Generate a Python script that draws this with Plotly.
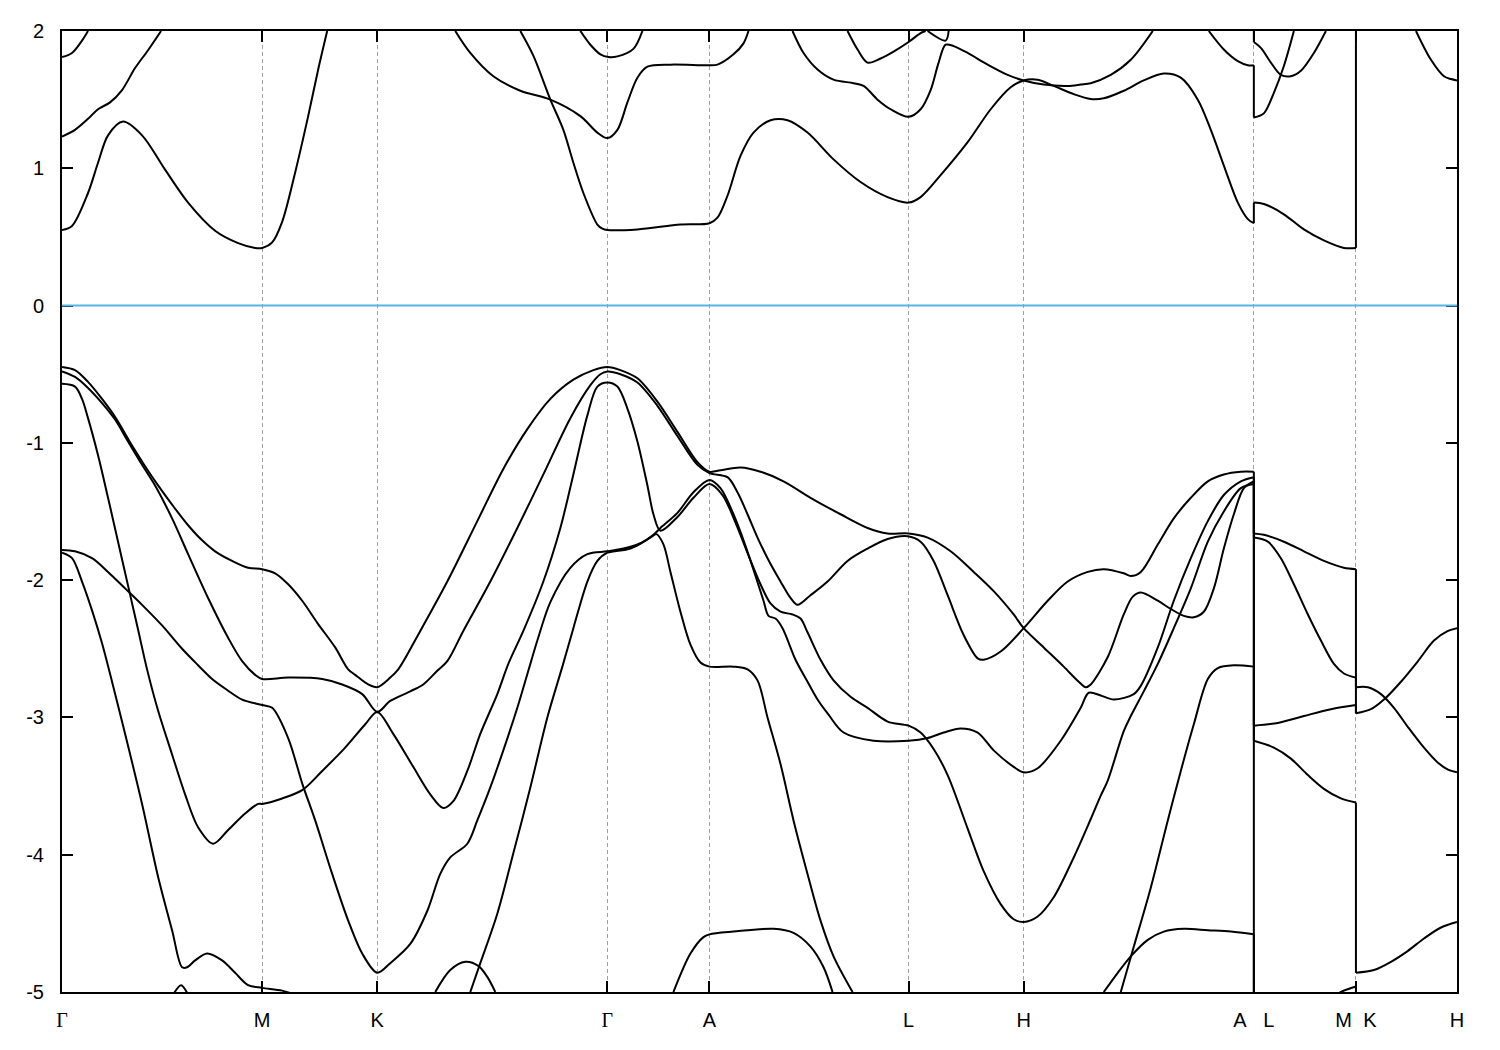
import plotly.graph_objects as go

# ---------------- high-symmetry points (k-path distance) ----------------
sym_k = [0.0, 0.200, 0.315, 0.545, 0.647, 0.846, 0.961, 1.191, 1.293, 1.394]
GAMMA = "<span style=\"font-family:'Liberation Serif', serif\">Γ</span>"
sym_labels = [GAMMA, "M", "K", GAMMA, "A", "L", "H", "A\u00a0\u00a0\u00a0L", "M\u00a0\u00a0K", "H"]
e_ticks = [-5, -4, -3, -2, -1, 0, 1, 2]
e_ticklabels = ["-5", "-4", "-3", "-2", "-1", "0", "1", "2"]
fermi_level = 0.0

# ---------------- conduction bands (k, E in eV) ----------------
cb1_k = [0.000, 0.010, 0.026, 0.036, 0.046, 0.061, 0.080, 0.103, 0.126, 0.153, 0.176, 0.193, 0.200, 0.210, 0.220, 0.233, 0.246, 0.256, 0.265]
cb1_e = [0.55, 0.58, 0.82, 1.04, 1.24, 1.34, 1.24, 0.99, 0.75, 0.545, 0.455, 0.42, 0.42, 0.46, 0.61, 0.97, 1.38, 1.72, 2.0]

cb2_k = [0.000, 0.013, 0.026, 0.036, 0.048, 0.060, 0.073, 0.086, 0.099]
cb2_e = [1.23, 1.28, 1.36, 1.43, 1.48, 1.57, 1.73, 1.86, 2.0]

cb3_k = [0.000, 0.010, 0.020, 0.026]
cb3_e = [1.81, 1.84, 1.93, 2.0]

cb4_k = [0.393, 0.408, 0.431, 0.458, 0.488, 0.518, 0.535, 0.545, 0.555, 0.565, 0.575, 0.585, 0.608, 0.647, 0.655, 0.671, 0.681, 0.686]
cb4_e = [2.0, 1.84, 1.67, 1.565, 1.50, 1.38, 1.26, 1.22, 1.28, 1.48, 1.66, 1.74, 1.755, 1.75, 1.755, 1.83, 1.91, 2.0]

cb5_k = [0.458, 0.471, 0.488, 0.501, 0.511, 0.521, 0.535, 0.540, 0.545, 0.575, 0.618, 0.647, 0.655, 0.665, 0.678, 0.691,
         0.708, 0.725, 0.745, 0.771, 0.798, 0.825, 0.846, 0.858, 0.878, 0.905, 0.928, 0.948, 0.961, 0.975, 0.991, 1.011,
         1.028, 1.041, 1.061, 1.081, 1.101, 1.118, 1.135, 1.148, 1.161, 1.175, 1.185, 1.191,
         1.191, 1.201, 1.221, 1.241, 1.261, 1.281, 1.293, 1.293]
cb5_e = [2.0, 1.82, 1.50, 1.28, 1.04, 0.82, 0.59, 0.56, 0.55, 0.555, 0.59, 0.60, 0.64, 0.80, 1.09, 1.26,
         1.35, 1.35, 1.26, 1.065, 0.90, 0.79, 0.75, 0.79, 0.95, 1.19, 1.43, 1.59, 1.64, 1.645, 1.60, 1.54,
         1.505, 1.51, 1.565, 1.64, 1.69, 1.66, 1.50, 1.28, 1.02, 0.75, 0.63, 0.60,
         0.75, 0.74, 0.665, 0.555, 0.475, 0.42, 0.42, 2.1]

cb6_k = [0.730, 0.741, 0.755, 0.771, 0.791, 0.801, 0.815, 0.828, 0.846, 0.858, 0.868, 0.876, 0.883, 0.891, 0.905, 0.925,
         0.945, 0.961, 0.981, 1.005, 1.018, 1.028, 1.048, 1.068, 1.090]
cb6_e = [2.0, 1.84, 1.72, 1.646, 1.62, 1.60, 1.50, 1.43, 1.375, 1.43, 1.57, 1.77, 1.90, 1.89, 1.84, 1.755,
         1.68, 1.64, 1.61, 1.60, 1.61, 1.62, 1.68, 1.79, 2.0]

cb7_k = [0.785, 0.795, 0.805, 0.818, 0.831, 0.846, 0.858, 0.863]
cb7_e = [2.0, 1.865, 1.77, 1.80, 1.85, 1.92, 1.985, 2.0]

cb8_k = [0.865, 0.883, 0.886]
cb8_e = [2.0, 1.93, 2.0]

cb9_k = [0.518, 0.528, 0.538, 0.546, 0.555, 0.571, 0.580]
cb9_e = [2.0, 1.90, 1.83, 1.81, 1.815, 1.87, 2.0]

cb10_k = [1.146, 1.161, 1.175, 1.185, 1.191, 1.191, 1.201, 1.211, 1.221, 1.231]
cb10_e = [2.0, 1.865, 1.78, 1.75, 1.75, 1.37, 1.40, 1.55, 1.745, 2.0]

cb11_k = [1.191, 1.191, 1.198, 1.208, 1.218, 1.228, 1.238, 1.251, 1.263]
cb11_e = [2.1, 1.92, 1.877, 1.77, 1.68, 1.67, 1.71, 1.84, 2.0]

cb12_k = [1.353, 1.368, 1.381, 1.388, 1.394]
cb12_e = [2.0, 1.79, 1.67, 1.65, 1.64]

# ---------------- valence bands (k, E in eV) ----------------
vb1_k = [0.000, 0.013, 0.026, 0.040, 0.053, 0.070, 0.083, 0.096, 0.110, 0.126, 0.140, 0.153, 0.170, 0.186, 0.200,
         0.213, 0.226, 0.240, 0.256, 0.273, 0.286, 0.293, 0.306, 0.315,
         0.328, 0.336, 0.358, 0.385, 0.415, 0.441, 0.465, 0.488, 0.511, 0.531, 0.545,
         0.558, 0.575, 0.595, 0.615, 0.635, 0.647,
         0.658, 0.678, 0.698, 0.721, 0.748, 0.778, 0.805, 0.825, 0.846, 0.865, 0.888, 0.911, 0.931, 0.951, 0.961,
         0.981, 1.001, 1.016, 1.023, 1.028, 1.045, 1.061, 1.070, 1.078, 1.095, 1.108, 1.121, 1.131, 1.141, 1.151,
         1.161, 1.171, 1.181, 1.191,
         1.191, 1.201, 1.221, 1.241, 1.261, 1.281, 1.293,
         1.293, 1.305, 1.318, 1.331, 1.345, 1.361, 1.375, 1.385, 1.394]
vb1_e = [-0.447, -0.47, -0.556, -0.68, -0.81, -1.02, -1.17, -1.31, -1.45, -1.60, -1.71, -1.79, -1.86, -1.91, -1.92,
         -1.95, -2.03, -2.15, -2.32, -2.49, -2.65, -2.69, -2.76, -2.78,
         -2.71, -2.65, -2.37, -2.01, -1.57, -1.19, -0.90, -0.68, -0.54, -0.47, -0.447,
         -0.47, -0.53, -0.70, -0.92, -1.14, -1.21,
         -1.20, -1.18, -1.21, -1.28, -1.40, -1.52, -1.62, -1.66, -1.66, -1.69, -1.79, -1.94, -2.08, -2.25, -2.35,
         -2.49, -2.63, -2.74, -2.78, -2.76, -2.56, -2.25, -2.12, -2.09, -2.15, -2.21, -2.26, -2.27, -2.23, -2.06,
         -1.77, -1.52, -1.33, -1.28,
         -1.66, -1.67, -1.72, -1.79, -1.86, -1.91, -1.92,
         -2.78, -2.78, -2.83, -2.93, -3.07, -3.22, -3.33, -3.38, -3.40]

vb2_k = [0.000, 0.013, 0.026, 0.040, 0.053, 0.066, 0.080, 0.093, 0.110, 0.126, 0.146, 0.166, 0.180, 0.193, 0.200,
         0.226, 0.260, 0.280, 0.300, 0.315,
         0.328, 0.348, 0.361, 0.375, 0.385, 0.401, 0.428, 0.455, 0.481, 0.508, 0.528, 0.538, 0.545,
         0.558, 0.575, 0.595, 0.615, 0.635, 0.647,
         0.665, 0.675, 0.685, 0.695, 0.705, 0.718, 0.728, 0.735, 0.748, 0.765, 0.785, 0.805, 0.825, 0.845, 0.858,
         0.871, 0.885, 0.901, 0.915, 0.921, 0.938, 0.961, 0.985, 1.005, 1.025, 1.041, 1.061, 1.068, 1.078, 1.095,
         1.111, 1.128, 1.145, 1.161, 1.178, 1.191,
         1.191, 1.205, 1.218, 1.231, 1.245, 1.258, 1.271, 1.281, 1.293,
         1.293, 1.308, 1.321, 1.338, 1.355, 1.371, 1.385, 1.394]
vb2_e = [-0.479, -0.52, -0.60, -0.71, -0.83, -0.99, -1.16, -1.31, -1.55, -1.81, -2.13, -2.42, -2.59, -2.69, -2.72,
         -2.71, -2.72, -2.76, -2.83, -2.96,
         -2.88, -2.81, -2.76, -2.66, -2.59, -2.37, -2.01, -1.62, -1.23, -0.82, -0.58, -0.50, -0.48,
         -0.50, -0.56, -0.73, -0.95, -1.16, -1.22,
         -1.25, -1.36, -1.52, -1.69, -1.84, -2.01, -2.13, -2.18, -2.11, -2.01, -1.86, -1.77, -1.70, -1.68, -1.72,
         -1.86, -2.11, -2.40, -2.57, -2.58, -2.52, -2.35, -2.15, -2.01, -1.94, -1.92, -1.95, -1.97, -1.94, -1.74,
         -1.55, -1.40, -1.28, -1.23, -1.21, -1.21,
         -1.69, -1.72, -1.84, -2.03, -2.25, -2.44, -2.61, -2.68, -2.71,
         -2.97, -2.94, -2.87, -2.74, -2.59, -2.44, -2.37, -2.35]

vb3_k = [0.000, 0.013, 0.020, 0.026, 0.036, 0.046, 0.056, 0.066, 0.076, 0.085, 0.096, 0.110, 0.123, 0.136, 0.151,
         0.166, 0.183, 0.196, 0.200,
         0.220, 0.240, 0.260, 0.283, 0.303, 0.315,
         0.331, 0.351, 0.368, 0.381, 0.391, 0.405, 0.418, 0.435, 0.446, 0.461, 0.481, 0.498, 0.511, 0.525, 0.535, 0.545,
         0.555, 0.565, 0.575, 0.585, 0.591, 0.598, 0.615, 0.631, 0.647,
         0.660, 0.673, 0.686, 0.698, 0.708, 0.718, 0.730, 0.738, 0.745, 0.758, 0.771, 0.788, 0.805, 0.825, 0.846,
         0.858, 0.871, 0.885, 0.905, 0.921, 0.938, 0.951, 0.961, 0.975, 0.991, 1.011, 1.028, 1.038, 1.045, 1.061,
         1.068, 1.081, 1.095, 1.111, 1.128, 1.145, 1.161, 1.178, 1.191,
         1.191, 1.215, 1.241, 1.268, 1.293,
         1.293]
vb3_e = [-0.57, -0.59, -0.68, -0.82, -1.09, -1.40, -1.72, -2.04, -2.36, -2.65, -2.95, -3.27, -3.56, -3.80, -3.92,
         -3.82, -3.70, -3.63, -3.63,
         -3.59, -3.53, -3.39, -3.22, -3.05, -2.96,
         -3.12, -3.36, -3.56, -3.66, -3.61, -3.39, -3.12, -2.83, -2.61, -2.37, -2.01, -1.62, -1.23, -0.80, -0.59, -0.56,
         -0.59, -0.75, -0.99, -1.31, -1.52, -1.64, -1.54, -1.40, -1.30,
         -1.38, -1.58, -1.82, -2.03, -2.17, -2.23, -2.25, -2.28, -2.38, -2.58, -2.73, -2.85, -2.93, -3.03, -3.06,
         -3.11, -3.23, -3.42, -3.81, -4.12, -4.36, -4.47, -4.49, -4.45, -4.31, -4.02, -3.74, -3.57, -3.46, -3.10,
         -2.99, -2.81, -2.61, -2.35, -2.06, -1.72, -1.50, -1.33, -1.30,
         -3.06, -3.04, -2.99, -2.94, -2.91,
         -2.97]

vb4_k = [0.408, 0.418, 0.435, 0.451, 0.468, 0.485, 0.500, 0.511, 0.525, 0.535, 0.545,
         0.568, 0.591, 0.598, 0.615, 0.631, 0.647,
         0.658, 0.671, 0.683, 0.693, 0.701, 0.706, 0.713, 0.720, 0.733, 0.745, 0.755, 0.766, 0.781, 0.811, 0.846,
         0.865, 0.881, 0.898, 0.915, 0.931, 0.951, 0.961, 0.975, 0.998, 1.018, 1.026, 1.038, 1.051, 1.071, 1.078,
         1.095, 1.111, 1.128, 1.145, 1.161, 1.178, 1.191,
         1.191, 1.211, 1.228, 1.245, 1.261, 1.278, 1.293,
         1.293, 1.311, 1.328, 1.345, 1.361, 1.378, 1.394]
vb4_e = [-5.0, -4.79, -4.43, -3.99, -3.51, -3.0, -2.63, -2.35, -2.01, -1.86, -1.80,
         -1.77, -1.67, -1.62, -1.51, -1.36, -1.27,
         -1.33, -1.52, -1.75, -1.97, -2.15, -2.26, -2.28, -2.35, -2.58, -2.74, -2.87, -2.98, -3.11, -3.17, -3.17,
         -3.15, -3.11, -3.08, -3.11, -3.24, -3.36, -3.40, -3.37, -3.17, -2.93, -2.82, -2.84, -2.87, -2.83, -2.77,
         -2.49, -2.15, -1.84, -1.57, -1.38, -1.28, -1.25,
         -3.17, -3.22, -3.30, -3.42, -3.52, -3.59, -3.62,
         -4.86, -4.84, -4.78, -4.70, -4.61, -4.53, -4.49]

vb5_k = [0.000, 0.013, 0.030, 0.046, 0.063, 0.080, 0.100, 0.120, 0.136, 0.150, 0.165, 0.180, 0.200,
         0.210, 0.226, 0.240, 0.253, 0.270, 0.286, 0.300, 0.315,
         0.328, 0.348, 0.365, 0.378, 0.388, 0.405, 0.415, 0.428, 0.441, 0.455, 0.466, 0.475, 0.488, 0.508, 0.525, 0.545,
         0.561, 0.575, 0.588, 0.594, 0.601, 0.608, 0.618, 0.628, 0.638, 0.647,
         0.671, 0.685, 0.695, 0.705, 0.718, 0.731, 0.745, 0.758, 0.771, 0.790]
vb5_e = [-1.78, -1.79, -1.84, -1.94, -2.06, -2.18, -2.33, -2.50, -2.62, -2.72, -2.80, -2.87, -2.91,
         -2.93, -3.15, -3.48, -3.75, -4.14, -4.48, -4.72, -4.86,
         -4.79, -4.65, -4.41, -4.14, -4.02, -3.92, -3.75, -3.51, -3.24, -2.93, -2.66, -2.44, -2.16, -1.91, -1.81, -1.79,
         -1.77, -1.74, -1.69, -1.665, -1.74, -1.94, -2.23, -2.47, -2.60, -2.63,
         -2.63, -2.65, -2.73, -3.0, -3.34, -3.75, -4.14, -4.48, -4.74, -5.0]

vb6_k = [0.000, 0.010, 0.020, 0.030, 0.040, 0.050, 0.060, 0.080, 0.096, 0.110, 0.120, 0.125, 0.133, 0.145, 0.160,
         0.173, 0.186, 0.200, 0.220, 0.233]
vb6_e = [-1.80, -1.84, -2.01, -2.22, -2.46, -2.74, -3.03, -3.63, -4.16, -4.55, -4.82, -4.82, -4.77, -4.72, -4.77,
         -4.86, -4.95, -4.97, -4.99, -5.02]

vb7_k = [0.111, 0.119, 0.126]
vb7_e = [-5.02, -4.95, -5.02]

vb8_k = [0.373, 0.388, 0.403, 0.416, 0.425, 0.433]
vb8_e = [-5.0, -4.84, -4.78, -4.81, -4.89, -5.0]

vb9_k = [0.611, 0.628, 0.641, 0.647, 0.671, 0.711, 0.731, 0.748, 0.761, 0.770]
vb9_e = [-5.0, -4.72, -4.60, -4.58, -4.56, -4.54, -4.57, -4.67, -4.82, -5.0]

vb10_k = [1.041, 1.055, 1.068, 1.085, 1.101, 1.121, 1.145, 1.168, 1.191, 1.191]
vb10_e = [-5.0, -4.86, -4.74, -4.62, -4.56, -4.54, -4.55, -4.56, -4.58, -5.3]

vb11_k = [1.058, 1.071, 1.088, 1.105, 1.118, 1.131, 1.145, 1.155, 1.171, 1.191, 1.191]
vb11_e = [-5.0, -4.67, -4.24, -3.75, -3.39, -3.05, -2.72, -2.64, -2.62, -2.63, -5.3]

vb12_k = [1.258, 1.278, 1.293, 1.293]
vb12_e = [-5.1, -5.0, -4.96, -5.3]

bands = [
    (cb1_k, cb1_e), (cb2_k, cb2_e), (cb3_k, cb3_e), (cb4_k, cb4_e), (cb5_k, cb5_e), (cb6_k, cb6_e),
    (cb7_k, cb7_e), (cb8_k, cb8_e), (cb9_k, cb9_e), (cb10_k, cb10_e), (cb11_k, cb11_e), (cb12_k, cb12_e),
    (vb1_k, vb1_e), (vb2_k, vb2_e), (vb3_k, vb3_e), (vb4_k, vb4_e), (vb5_k, vb5_e), (vb6_k, vb6_e),
    (vb7_k, vb7_e), (vb8_k, vb8_e), (vb9_k, vb9_e), (vb10_k, vb10_e), (vb11_k, vb11_e), (vb12_k, vb12_e),
]


def split_band(ks, es):
    """Split a band at path discontinuities (repeated k): smooth pieces + vertical jumps."""
    pieces, jumps = [], []
    cur_k, cur_e = [ks[0]], [es[0]]
    for i in range(1, len(ks)):
        if ks[i] == ks[i - 1]:
            pieces.append((cur_k, cur_e))
            jumps.append(([ks[i - 1], ks[i]], [es[i - 1], es[i]]))
            cur_k, cur_e = [ks[i]], [es[i]]
        else:
            cur_k.append(ks[i])
            cur_e.append(es[i])
    pieces.append((cur_k, cur_e))
    return pieces, jumps


fig = go.Figure()
LINE_W = 2.0
for ks, es in bands:
    pieces, jumps = split_band(ks, es)
    for pk, pe in pieces:
        if len(pk) < 2:
            continue
        fig.add_trace(go.Scatter(x=pk, y=pe, mode="lines", showlegend=False, hoverinfo="skip",
                                 line=dict(color="black", width=LINE_W, shape="spline", smoothing=0.9)))
    for jk, je in jumps:
        fig.add_trace(go.Scatter(x=jk, y=je, mode="lines", showlegend=False, hoverinfo="skip",
                                 line=dict(color="black", width=LINE_W)))

# Fermi level
fig.add_shape(type="line", xref="paper", x0=0, x1=1, yref="y", y0=fermi_level, y1=fermi_level,
              line=dict(color="#56B4E9", width=2), layer="above")

font_family = "Liberation Sans, Arial, sans-serif"
fig.update_layout(
    width=1492, height=1042,
    margin=dict(l=54, r=43, t=20, b=58),
    paper_bgcolor="white", plot_bgcolor="white",
    font=dict(family=font_family, size=20, color="black"),
    showlegend=False,
)
fig.update_xaxes(
    range=[sym_k[0], sym_k[-1]],
    tickmode="array", tickvals=sym_k, ticktext=sym_labels,
    ticks="inside", ticklen=11, tickwidth=1.5, tickcolor="black",
    showline=True, linecolor="black", linewidth=2, mirror="ticks",
    showgrid=True, gridcolor="#a0a0a0", gridwidth=1, griddash="4px,3px",
    zeroline=False, ticklabelstandoff=9,
    tickfont=dict(family=font_family, size=20, color="black"),
)
fig.update_yaxes(
    range=[-5, 2],
    tickmode="array", tickvals=e_ticks, ticktext=e_ticklabels,
    ticks="inside", ticklen=11, tickwidth=1.5, tickcolor="black",
    showline=True, linecolor="black", linewidth=2, mirror="ticks",
    showgrid=False, zeroline=False, ticklabelstandoff=12,
    tickfont=dict(family=font_family, size=20, color="black"),
)

fig.write_html("out.html")
